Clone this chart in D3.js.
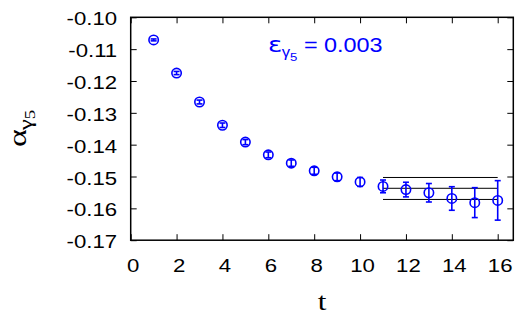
<!DOCTYPE html>
<html lang="en">
<head>
  <meta charset="utf-8" />
  <title>alpha gamma5 vs t</title>
<style>
body { margin:0; background:#fff; }
svg { display:block; }
.axis text { font-family: "Liberation Sans", Arial, sans-serif; font-size:18.5px; fill:#000; }
.axis line { stroke:#000; stroke-width:1; }
.axis .domain { display:none; }
.pt circle { fill:none; stroke:#0000ff; stroke-width:1.6; }
.pt line { stroke:#0000ff; stroke-width:1.6; }
.band { stroke:#000; stroke-width:1; }
</style>
</head>
<body>
<svg width="525" height="315"></svg>
<script src="https://cdn.jsdelivr.net/npm/d3@7"></script>
<script>

// data
var tValues   = [1, 2, 3, 4, 5, 6, 7, 8, 9, 10, 11, 12, 13, 14, 15, 16];
var alphaVals = [-0.1071, -0.1175, -0.1266, -0.1339, -0.1392, -0.1432, -0.1458, -0.1482,
                 -0.1501, -0.1517, -0.1531, -0.1541, -0.1551, -0.1569, -0.1582, -0.1575];
var alphaErrs = [0.0003, 0.0005, 0.0006, 0.0007, 0.0008, 0.0009, 0.0010, 0.0011,
                 0.0012, 0.0014, 0.0020, 0.0023, 0.0029, 0.0037, 0.0047, 0.0062];
var fitRange  = [11, 16];
var fitBand   = [-0.1503, -0.1537, -0.1572];   // upper, central, lower
var xTicks    = [0, 2, 4, 6, 8, 10, 12, 14, 16];
var yTicks    = [-0.17, -0.16, -0.15, -0.14, -0.13, -0.12, -0.11, -0.10];

var points = tValues.map(function(t, i) { return {t: t, v: alphaVals[i], e: alphaErrs[i]}; });

var svg = d3.select("svg");
var pLeft = 130.7, pRight = 513.3, pTop = 17.3, pBottom = 240.2;
var stretch = 1.2;

var x = d3.scaleLinear().domain([0, 16.68]).range([pLeft, pRight]);
var y = d3.scaleLinear().domain([-0.17, -0.10]).range([pBottom, pTop]);

// axes with inward ticks on all four sides
svg.append("g").attr("class", "axis")
	.attr("transform", "translate(0," + pBottom + ")")
	.call(d3.axisBottom(x).tickValues(xTicks).tickSize(-6).tickSizeOuter(0).tickFormat(d3.format("d")))
	.selectAll("text")
	.attr("x", 0).attr("y", 0).attr("dy", 0)
	.attr("transform", "translate(2,32) scale(" + stretch + ",1)");

svg.append("g").attr("class", "axis")
	.attr("transform", "translate(0," + pTop + ")")
	.call(d3.axisTop(x).tickValues(xTicks).tickSize(-6).tickSizeOuter(0).tickFormat(""));

svg.append("g").attr("class", "axis")
	.attr("transform", "translate(" + pLeft + ",0)")
	.call(d3.axisLeft(y).tickValues(yTicks).tickSize(-6).tickSizeOuter(0).tickFormat(d3.format(".2f")))
	.selectAll("text")
	.text(function(d) { return d3.format(".2f")(d).replace("\u2212", "-"); })
	.attr("x", 0).attr("y", 0).attr("dy", 0)
	.attr("transform", "translate(-13.5,7.5) scale(" + stretch + ",1)");

svg.append("g").attr("class", "axis")
	.attr("transform", "translate(" + pRight + ",0)")
	.call(d3.axisRight(y).tickValues(yTicks).tickSize(-6).tickSizeOuter(0).tickFormat(""));

svg.append("rect")
	.attr("x", pLeft).attr("y", pTop)
	.attr("width", pRight - pLeft).attr("height", pBottom - pTop)
	.attr("fill", "none").attr("stroke", "#000").attr("stroke-width", 1.5);

// fit band lines
svg.selectAll(".band").data(fitBand).enter().append("line")
	.attr("class", "band")
	.attr("x1", x(fitRange[0])).attr("x2", x(fitRange[1]))
	.attr("y1", function(d) { return y(d); })
	.attr("y2", function(d) { return y(d); });

// points with error bars
var pt = svg.selectAll(".pt").data(points).enter().append("g").attr("class", "pt");

pt.append("line")
	.attr("x1", function(d) { return x(d.t); }).attr("x2", function(d) { return x(d.t); })
	.attr("y1", function(d) { return y(d.v + d.e); }).attr("y2", function(d) { return y(d.v - d.e); });
pt.append("line")
	.attr("x1", function(d) { return x(d.t) - 3; }).attr("x2", function(d) { return x(d.t) + 3; })
	.attr("y1", function(d) { return y(d.v + d.e); }).attr("y2", function(d) { return y(d.v + d.e); });
pt.append("line")
	.attr("x1", function(d) { return x(d.t) - 3; }).attr("x2", function(d) { return x(d.t) + 3; })
	.attr("y1", function(d) { return y(d.v - d.e); }).attr("y2", function(d) { return y(d.v - d.e); });
pt.append("circle")
	.attr("cx", function(d) { return x(d.t); })
	.attr("cy", function(d) { return y(d.v); })
	.attr("r", 4.7);

// epsilon annotation
var eps = svg.append("text")
	.attr("transform", "translate(268,52.3) scale(" + stretch + ",1)")
	.attr("fill", "#0000ff")
	.style("font-family", "'Liberation Sans', Arial, sans-serif")
	.style("font-size", "19.5px");
eps.append("tspan").text("\u03b5").style("font-size", "22px").style("font-family", "'DejaVu Sans', sans-serif");
eps.append("tspan").attr("dy", 5).attr("dx", -0.5).style("font-size", "14px").text("\u03b3");
eps.append("tspan").attr("dy", 3.5).style("font-size", "11px").text("5");
eps.append("tspan").attr("dy", -8.5).text(" = 0.003");

// axis titles
svg.append("text")
	.attr("transform", "translate(322,310) scale(" + stretch + ",1)")
	.attr("text-anchor", "middle")
	.style("font-family", "'Liberation Serif', 'Times New Roman', serif")
	.style("font-size", "26px")
	.text("t");

var ylab = svg.append("text")
	.attr("transform", "translate(25.5,147) scale(0.75,1) rotate(-90)")
	.style("font-family", "'Liberation Serif', 'Times New Roman', serif")
	.style("font-size", "34px");
ylab.append("tspan").text("\u03b1");
ylab.append("tspan").attr("dy", 9).attr("dx", -1).style("font-size", "25px").text("\u03b3");
ylab.append("tspan").attr("dy", 3).style("font-size", "19px").text("5");

</script>
</body>
</html>
